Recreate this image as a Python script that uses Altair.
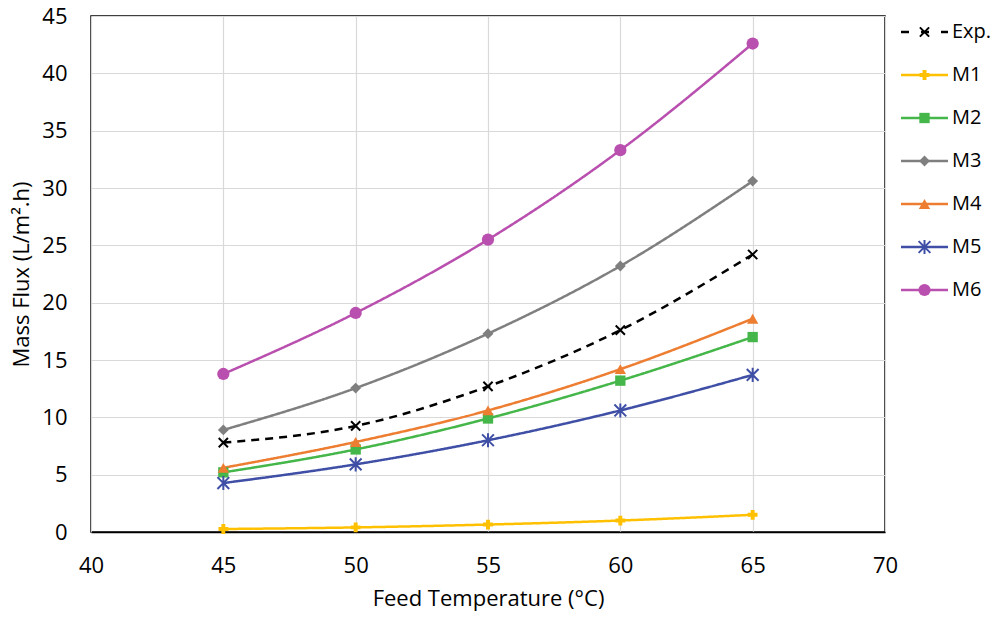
import altair as alt
import pandas as pd

temps = [45, 50, 55, 60, 65]
names = ["Exp.", "M1", "M2", "M3", "M4", "M5", "M6"]
exp = [7.8, 9.25, 12.7, 17.6, 24.2]
m1 = [0.26, 0.4, 0.65, 1.0, 1.5]
m2 = [5.2, 7.2, 9.9, 13.2, 17.0]
m3 = [8.9, 12.55, 17.3, 23.2, 30.6]
m4 = [5.6, 7.85, 10.6, 14.2, 18.6]
m5 = [4.27, 5.9, 8.0, 10.6, 13.7]
m6 = [13.78, 19.1, 25.5, 33.3, 42.6]
series_values = [exp, m1, m2, m3, m4, m5, m6]

colors = ["#000000", "#FFC000", "#45B649", "#7F7F7F", "#ED7D31", "#3F4FA6", "#B94FAE"]
X_PATH = "M-1,-1L1,1M-1,1L1,-1"
AST_PATH = "M-1,-1L1,1M-1,1L1,-1M0,-1.2L0,1.2"
shapes = [X_PATH, "cross", "square", "diamond", "triangle-up", AST_PATH, "circle"]
sizes = [85, 150, 130, 150, 150, 130, 180]
dashes = [[8, 6], [1, 0], [1, 0], [1, 0], [1, 0], [1, 0], [1, 0]]
filled_names = ["M1", "M2", "M3", "M4", "M6"]
stroked_names = ["Exp.", "M5"]

rows = []
for n, vals in zip(names, series_values):
    for t, v in zip(temps, vals):
        rows.append({"series": n, "temp": t, "flux": v})
df = pd.DataFrame(rows)

W, H = 794, 516
font = "Open Sans"
FS = 22
color_scale = alt.Scale(domain=names, range=colors)
shape_scale = alt.Scale(domain=names, range=shapes)
size_scale = alt.Scale(domain=names, range=sizes)
dash_scale = alt.Scale(domain=names, range=dashes)

x_enc = alt.X("temp:Q", scale=alt.Scale(domain=[40, 70]),
              axis=alt.Axis(values=[40, 45, 50, 55, 60, 65, 70], title="Feed Temperature (°C)",
                            ticks=False, labelPadding=23, titlePadding=12, labelFlush=False,
                            domainColor="#000000", domainWidth=1.5))
y_enc = alt.Y("flux:Q", scale=alt.Scale(domain=[0, 45]),
              axis=alt.Axis(values=[0, 5, 10, 15, 20, 25, 30, 35, 40, 45], title="Mass Flux (L/m².h)",
                            ticks=False, labelPadding=24, titlePadding=8, labelFlush=False, domain=False))

base = alt.Chart(df).encode(x=x_enc, y=y_enc)

lines = base.mark_line(strokeWidth=2.5, interpolate="monotone").encode(
    color=alt.Color("series:N", scale=color_scale, legend=None),
    strokeDash=alt.StrokeDash("series:N", scale=dash_scale, legend=None),
    detail="series:N",
)
pts_filled = base.transform_filter(
    alt.FieldOneOfPredicate(field="series", oneOf=filled_names)
).mark_point(filled=True, opacity=1).encode(
    color=alt.Color("series:N", scale=color_scale, legend=None),
    shape=alt.Shape("series:N", scale=shape_scale, legend=None),
    size=alt.Size("series:N", scale=size_scale, legend=None),
)
pts_stroked = base.transform_filter(
    alt.FieldOneOfPredicate(field="series", oneOf=stroked_names)
).mark_point(filled=False, opacity=1, strokeWidth=2).encode(
    color=alt.Color("series:N", scale=color_scale, legend=None),
    shape=alt.Shape("series:N", scale=shape_scale, legend=None),
    size=alt.Size("series:N", scale=size_scale, legend=None),
)

# legend, drawn to the right of the plot with its own y scale
leg_df = pd.DataFrame({"series": names, "i": list(range(len(names)))})
step = 43.0
top_off = 16.0
leg_y = alt.Y("i:Q", scale=alt.Scale(domain=[(H - top_off) / step, -top_off / step]), axis=None)
leg_base = alt.Chart(leg_df).encode(y=leg_y)
leg_dash_scale = alt.Scale(domain=names, range=[[8, 12]] + [[1, 0]] * 6)
leg_lines = leg_base.mark_rule(strokeWidth=2.5).encode(
    x=alt.value(W + 16), x2=alt.value(W + 63),
    color=alt.Color("series:N", scale=color_scale, legend=None),
    strokeDash=alt.StrokeDash("series:N", scale=leg_dash_scale, legend=None),
)
leg_pf = leg_base.transform_filter(
    alt.FieldOneOfPredicate(field="series", oneOf=filled_names)
).mark_point(filled=True, opacity=1).encode(
    x=alt.value(W + 39.5),
    color=alt.Color("series:N", scale=color_scale, legend=None),
    shape=alt.Shape("series:N", scale=shape_scale, legend=None),
    size=alt.Size("series:N", scale=size_scale, legend=None),
)
leg_ps = leg_base.transform_filter(
    alt.FieldOneOfPredicate(field="series", oneOf=stroked_names)
).mark_point(filled=False, opacity=1, strokeWidth=2).encode(
    x=alt.value(W + 39.5),
    color=alt.Color("series:N", scale=color_scale, legend=None),
    shape=alt.Shape("series:N", scale=shape_scale, legend=None),
    size=alt.Size("series:N", scale=size_scale, legend=None),
)
leg_text = leg_base.mark_text(align="left", baseline="middle", font=font, fontSize=20, color="#000000").encode(
    x=alt.value(W + 67), text="series:N"
)
legend = alt.layer(leg_lines, leg_pf, leg_ps, leg_text)

main = alt.layer(lines, pts_filled, pts_stroked)

chart = alt.layer(main, legend).resolve_scale(
    y="independent", strokeDash="independent"
).properties(
    width=W, height=H,
    autosize=alt.AutoSizeParams(type="none"),
    padding={"left": 83, "top": 8, "right": 108, "bottom": 79},
).configure_view(stroke="#000000", strokeWidth=1.5).configure_axis(
    labelFont=font, titleFont=font, labelFontSize=FS, titleFontSize=FS,
    labelColor="#000000", titleColor="#000000", titleFontWeight="normal",
    gridColor="#D9D9D9", gridWidth=1.2,
)

chart.save("out.html", embed_options={"renderer": "svg", "actions": False})
